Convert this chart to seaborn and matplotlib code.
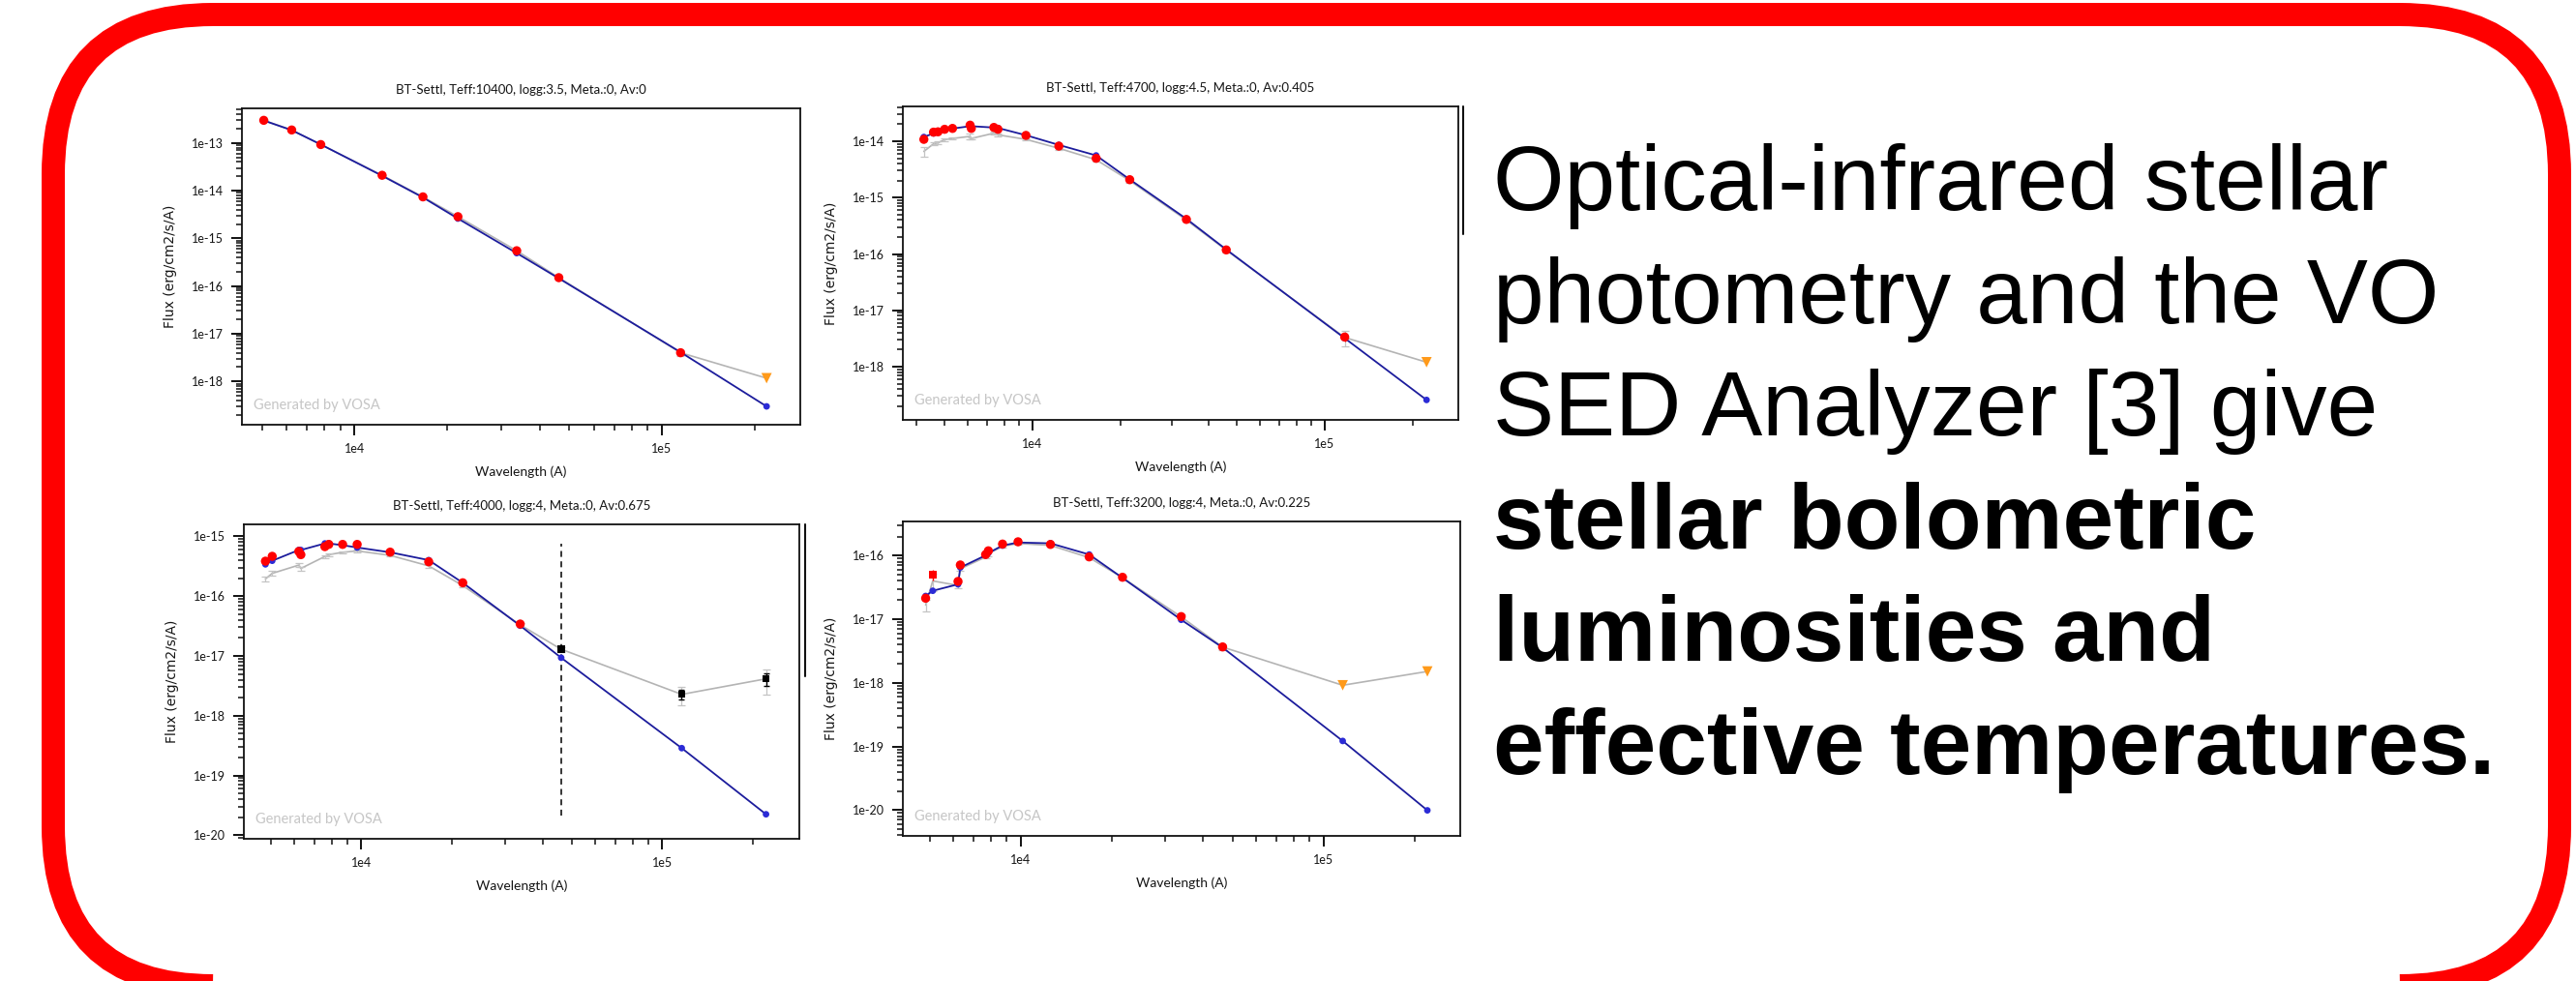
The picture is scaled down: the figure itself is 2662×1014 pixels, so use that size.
import numpy as np
import matplotlib
matplotlib.use("Agg")
import matplotlib.pyplot as plt
import seaborn as sns
from matplotlib.patches import FancyBboxPatch
from matplotlib.lines import Line2D
from matplotlib.transforms import IdentityTransform
from matplotlib.ticker import LogLocator, FuncFormatter, NullFormatter

sns.set_style("white")
plt.rcParams['font.family'] = ['Lato', 'DejaVu Sans']

# ---------------- data ----------------
titles = [
    "BT-Settl, Teff:10400, logg:3.5, Meta.:0, Av:0",
    "BT-Settl, Teff:4700, logg:4.5, Meta.:0, Av:0.405",
    "BT-Settl, Teff:4000, logg:4, Meta.:0, Av:0.675",
    "BT-Settl, Teff:3200, logg:4, Meta.:0, Av:0.225",
]

# Panel A (Teff 10400)
wave_a = [5070, 6250, 7770, 12300, 16700, 21700, 33700, 46200, 115000, 219000]
model_a = [2.95e-13, 1.85e-13, 9.3e-14, 2.05e-14, 7.2e-15, 2.6e-15, 4.9e-16, 1.45e-16, 4.1e-18, 3.0e-19]
observed_a = [2.98e-13, 1.87e-13, 9.25e-14, 2.1e-14, 7.4e-15, 2.85e-15, 5.5e-16, 1.5e-16, 4.0e-18, 1.17e-18]
dered_a = [2.98e-13, 1.87e-13, 9.25e-14, 2.1e-14, 7.4e-15, 2.85e-15, 5.5e-16, 1.5e-16, 4.0e-18, 1.17e-18]
kind_a = ['fit'] * 9 + ['upper']
err_a = [0.03, 0.03, 0.04, 0.03, 0.05, 0.06, 0.06, 0.05, 0.15, 0.0]

# Panel B (Teff 4700)
wave_b = [4245, 4580, 4745, 5000, 5320, 6110, 6170, 7370, 7610, 9490, 12300, 16500, 21500, 33600, 46000, 117000, 223000]
model_b = [1.19e-14, 1.38e-14, 1.45e-14, 1.58e-14, 1.68e-14, 1.85e-14, 1.85e-14, 1.75e-14, 1.72e-14, 1.28e-14, 8.6e-15, 5.6e-15, 2.1e-15, 4.2e-16, 1.2e-16, 3.2e-18, 2.57e-19]
observed_b = [6.6e-15, 9.0e-15, 9.4e-15, 1.07e-14, 1.12e-14, 1.22e-14, 1.12e-14, 1.39e-14, 1.3e-14, 1.08e-14, 7.5e-15, 4.7e-15, 2.0e-15, 4.0e-16, 1.17e-16, 3.3e-18, 1.2e-18]
dered_b = [1.08e-14, 1.45e-14, 1.47e-14, 1.63e-14, 1.69e-14, 1.93e-14, 1.69e-14, 1.76e-14, 1.63e-14, 1.27e-14, 8.2e-15, 4.98e-15, 2.08e-15, 4.1e-16, 1.18e-16, 3.36e-18, 1.2e-18]
kind_b = ['fit'] * 16 + ['upper']
err_b = [0.2, 0.06, 0.05, 0.05, 0.05, 0.12, 0.05, 0.05, 0.05, 0.05, 0.06, 0.08, 0.1, 0.06, 0.08, 0.3, 0.0]

# Panel C (Teff 4000)
wave_c = [4805, 5060, 6200, 6300, 7570, 7800, 8670, 9690, 12470, 16750, 21730, 33720, 46130, 116000, 221000]
model_c = [3.4e-16, 3.9e-16, 5.9e-16, 5.9e-16, 7.6e-16, 7.6e-16, 7.1e-16, 6.5e-16, 5.4e-16, 4.0e-16, 1.67e-16, 3.2e-17, 9.3e-18, 2.86e-19, 2.24e-20]
observed_c = [1.94e-16, 2.4e-16, 3.3e-16, 2.9e-16, 4.6e-16, 4.93e-16, 5.4e-16, 5.7e-16, 4.8e-16, 3.2e-16, 1.5e-16, 3.3e-17, 1.29e-17, 2.27e-18, 4.13e-18]
dered_c = [3.84e-16, 4.63e-16, 5.58e-16, 4.93e-16, 6.72e-16, 7.33e-16, 7.33e-16, 7.33e-16, 5.44e-16, 3.75e-16, 1.67e-16, 3.41e-17, 1.29e-17, 2.27e-18, 4.13e-18]
kind_c = ['fit'] * 12 + ['excess'] * 3
err_c = [0.1, 0.1, 0.08, 0.08, 0.05, 0.05, 0.04, 0.05, 0.05, 0.06, 0.06, 0.08, 0.1, 0.35, 0.45]
excess_start_c = 46130
excess_span_c = [2.1e-20, 7.6e-16]

# Panel D (Teff 3200)
wave_d = [4855, 5125, 6210, 6320, 7660, 7820, 8710, 9800, 12540, 16830, 21680, 33870, 46400, 115600, 220000]
model_d = [2.32e-17, 2.8e-17, 3.54e-17, 6.5e-17, 1.01e-16, 1.1e-16, 1.44e-16, 1.61e-16, 1.56e-16, 1.04e-16, 4.47e-17, 9.8e-18, 3.59e-18, 1.22e-19, 9.9e-21]
observed_d = [1.67e-17, 4.0e-17, 3.4e-17, 6.2e-17, 9.5e-17, 1.07e-16, 1.4e-16, 1.55e-16, 1.45e-16, 9.3e-17, 4.5e-17, 1.09e-17, 3.65e-18, 9.16e-19, 1.51e-18]
dered_d = [2.14e-17, 5.02e-17, 3.93e-17, 7.13e-17, 1.04e-16, 1.19e-16, 1.52e-16, 1.65e-16, 1.50e-16, 9.55e-17, 4.57e-17, 1.1e-17, 3.67e-18, 9.16e-19, 1.51e-18]
kind_d = ['fit', 'fitsq'] + ['fit'] * 11 + ['upper'] * 2
err_d = [0.2, 0.3, 0.1, 0.06, 0.05, 0.1, 0.05, 0.05, 0.05, 0.06, 0.08, 0.1, 0.1, 0.0, 0.0]

text_lines = [
    ("Optical-infrared stellar", "normal"),
    ("photometry and the VO", "normal"),
    ("SED Analyzer [3] give", "normal"),
    ("stellar bolometric", "bold"),
    ("luminosities and", "bold"),
    ("effective temperatures.", "bold"),
]

# ---------------- layout (pixels) ----------------
W, H = 2662, 1014
panels = [
    dict(box=(250, 827, 112, 439), xlim=(10**3.634, 10**5.450), ylim=(10**-18.907, 10**-12.275),
         wave=wave_a, model=model_a, obs=observed_a, dered=dered_a, kind=kind_a, err=err_a),
    dict(box=(933, 1507, 110, 434), xlim=(10**3.556, 10**5.457), ylim=(10**-18.944, 10**-13.382),
         wave=wave_b, model=model_b, obs=observed_b, dered=dered_b, kind=kind_b, err=err_b),
    dict(box=(252, 826, 542, 867), xlim=(10**3.610, 10**5.455), ylim=(10**-20.06, 10**-14.80),
         wave=wave_c, model=model_c, obs=observed_c, dered=dered_c, kind=kind_c, err=err_c),
    dict(box=(933, 1509, 539, 864), xlim=(10**3.611, 10**5.451), ylim=(10**-20.406, 10**-15.463),
         wave=wave_d, model=model_d, obs=observed_d, dered=dered_d, kind=kind_d, err=err_d),
]

fig = plt.figure(figsize=(W / 100, H / 100), dpi=100)
fig.patch.set_facecolor('white')

pt = 0.72  # points per pixel at dpi 100
fmt = FuncFormatter(lambda v, p: f"1e{int(round(np.log10(v)))}")

BLUE_LINE = '#1c1c9c'
BLUE_DOT = '#2b2bd6'
RED = '#ff0000'
GRAY = '#b4b4b4'
ORANGE = '#ff9a1a'

for i, p in enumerate(panels):
    l, r, t, b = p['box']
    ax = fig.add_axes([l / W, 1 - b / H, (r - l) / W, (b - t) / H])
    ax.set_xscale('log')
    ax.set_yscale('log')
    ax.set_xlim(*p['xlim'])
    ax.set_ylim(*p['ylim'])

    wave = np.array(p['wave'], float)
    obs = np.array(p['obs'], float)
    dered = np.array(p['dered'], float)
    model = np.array(p['model'], float)
    kind = np.array(p['kind'])
    err = np.array(p['err'], float)

    # observed (non-dereddened) fluxes: gray line with gray error bars
    sns.lineplot(x=wave, y=obs, ax=ax, color=GRAY, lw=1.2, sort=False, estimator=None, zorder=2)
    m = err > 0
    ax.errorbar(wave[m], obs[m], yerr=obs[m] * err[m], fmt='none', ecolor='#c4c4c4',
                elinewidth=0.9, capsize=3, capthick=0.9, zorder=2)

    # model synthetic photometry: blue line + dots
    sns.lineplot(x=wave, y=model, ax=ax, color=BLUE_LINE, lw=1.3, sort=False, estimator=None, zorder=3)
    sns.scatterplot(x=wave, y=model, ax=ax, color=BLUE_DOT, s=24, edgecolor='none', zorder=4)

    # dereddened photometry
    fit = (kind == 'fit') | (kind == 'fitsq')
    ax.errorbar(wave[fit & m], dered[fit & m], yerr=dered[fit & m] * err[fit & m] * 0.6, fmt='none',
                ecolor=RED, elinewidth=1.0, capsize=0, zorder=5)
    circ = kind == 'fit'
    sns.scatterplot(x=wave[circ], y=dered[circ], ax=ax, color=RED, s=46, edgecolor='none', zorder=6)
    sq = kind == 'fitsq'
    if sq.any():
        sns.scatterplot(x=wave[sq], y=dered[sq], ax=ax, color=RED, marker='s', s=34,
                        edgecolor='none', zorder=6)
    up = kind == 'upper'
    if up.any():
        sns.scatterplot(x=wave[up], y=dered[up], ax=ax, color=ORANGE, marker='v', s=60,
                        edgecolor='none', zorder=6)
    ex = kind == 'excess'
    if ex.any():
        ax.errorbar(wave[ex], dered[ex], yerr=dered[ex] * err[ex] * 0.5, fmt='none',
                    ecolor='black', elinewidth=1.0, capsize=2, zorder=5)
        sns.scatterplot(x=wave[ex], y=dered[ex], ax=ax, color='black', marker='s', s=28,
                        edgecolor='none', zorder=6)
        ax.vlines(excess_start_c, excess_span_c[0], excess_span_c[1], colors='black',
                  linestyles=(0, (4, 3)), lw=1.1, zorder=1)

    # ticks
    for axis in (ax.xaxis, ax.yaxis):
        axis.set_major_locator(LogLocator(base=10, numticks=20))
        axis.set_minor_locator(LogLocator(base=10, subs=np.arange(2, 10), numticks=200))
        axis.set_major_formatter(fmt)
        axis.set_minor_formatter(NullFormatter())
    ax.tick_params(which='both', direction='out', bottom=True, left=True, top=False, right=False,
                   color='#111111')
    ax.tick_params(which='major', length=11 * pt, width=1.4, labelsize=9, pad=8 * pt,
                   labelcolor='#151515')
    ax.tick_params(which='minor', length=6 * pt, width=1.1)
    for s in ax.spines.values():
        s.set_color('#111111')
        s.set_linewidth(1.3)
        s.set_visible(True)
    ax.grid(False)
    ax.set_facecolor('white')

    ax.set_title(titles[i], fontsize=9.5, pad=11, color='#151515')
    ax.set_xlabel("Wavelength (A)", fontsize=10, color='#151515')
    ax.set_ylabel("Flux (erg/cm2/s/A)", fontsize=10, family='DejaVu Sans', color='#151515')
    wpx, hpx = r - l, b - t
    ax.xaxis.set_label_coords(0.5, -49 / hpx)
    ax.xaxis.label.set_va('center')
    ax.yaxis.set_label_coords(-74 / wpx, 0.5)
    ax.yaxis.label.set_va('center')
    ax.yaxis.label.set_ha('center')

    ax.text(12 / wpx, 20 / hpx, "Generated by VOSA", transform=ax.transAxes, fontsize=10.5,
            color='#c6c6c6', ha='left', va='center')

# stray frame lines from the original screenshot
for x, y0, y1 in [(1512, 110, 242), (832, 542, 699)]:
    fig.add_artist(Line2D([x, x], [H - y0, H - y1], transform=IdentityTransform(),
                          color='#111111', lw=1.5))

# right-hand text
baselines = [217, 333.5, 450, 566.5, 683, 799.5]
for (txt, wt), yb in zip(text_lines, baselines):
    fig.text(1543 / W, 1 - yb / H, txt, fontsize=68, family=['Liberation Sans', 'DejaVu Sans'],
             weight=wt, ha='left', va='baseline', color='black')

# red rounded frame
frame = FancyBboxPatch((55, H - 1019), 2590, 1004, boxstyle="round,pad=0,rounding_size=165",
                       transform=IdentityTransform(), lw=24 * pt, ec='#ff0000', fc='none')
fig.add_artist(frame)

fig.savefig("out.png", dpi=100, facecolor='white')
